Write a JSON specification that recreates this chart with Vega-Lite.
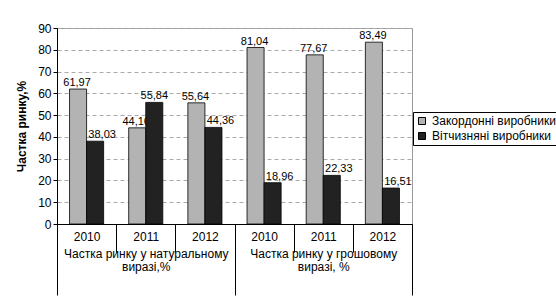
{
  "$schema": "https://vega.github.io/schema/vega-lite/v6.json",
  "width": 355,
  "height": 196,
  "autosize": {"type": "none"},
  "padding": {"left": 57, "top": 28, "right": 144, "bottom": 79},
  "background": "white",
  "config": {
    "font": "Liberation Sans",
    "view": {"stroke": "#999999", "strokeWidth": 1},
    "locale": {"number": {"decimal": ",", "thousands": " ", "grouping": [3], "currency": ["", ""]}}
  },
  "data": {
    "values": [
      {"grp": "Частка ринку у натуральному виразі,%", "cat": "N2010", "series": "Закордонні виробники", "value": 61.97},
      {"grp": "Частка ринку у натуральному виразі,%", "cat": "N2010", "series": "Вітчизняні виробники", "value": 38.03},
      {"grp": "Частка ринку у натуральному виразі,%", "cat": "N2011", "series": "Закордонні виробники", "value": 44.16},
      {"grp": "Частка ринку у натуральному виразі,%", "cat": "N2011", "series": "Вітчизняні виробники", "value": 55.84},
      {"grp": "Частка ринку у натуральному виразі,%", "cat": "N2012", "series": "Закордонні виробники", "value": 55.64},
      {"grp": "Частка ринку у натуральному виразі,%", "cat": "N2012", "series": "Вітчизняні виробники", "value": 44.36},
      {"grp": "Частка ринку у грошовому виразі, %", "cat": "G2010", "series": "Закордонні виробники", "value": 81.04},
      {"grp": "Частка ринку у грошовому виразі, %", "cat": "G2010", "series": "Вітчизняні виробники", "value": 18.96},
      {"grp": "Частка ринку у грошовому виразі, %", "cat": "G2011", "series": "Закордонні виробники", "value": 77.67},
      {"grp": "Частка ринку у грошовому виразі, %", "cat": "G2011", "series": "Вітчизняні виробники", "value": 22.33},
      {"grp": "Частка ринку у грошовому виразі, %", "cat": "G2012", "series": "Закордонні виробники", "value": 83.49},
      {"grp": "Частка ринку у грошовому виразі, %", "cat": "G2012", "series": "Вітчизняні виробники", "value": 16.51}
    ]
  },
  "resolve": {"scale": {"x": "independent"}, "axis": {"x": "independent"}},
  "layer": [
    {
      "encoding": {
        "x": {
          "field": "cat",
          "type": "nominal",
          "scale": {"domain": ["N2010", "N2011", "N2012", "G2010", "G2011", "G2012"], "paddingInner": 0, "paddingOuter": 0},
          "axis": {
            "orient": "bottom",
            "title": null,
            "labelExpr": "isString(datum.value) ? substring(datum.value, 1) : ''",
            "labelAngle": 0,
            "labelFontSize": 12,
            "labelColor": "#000000",
            "labelPadding": -21,
            "labelBaseline": "top",
            "tickBand": "extent",
            "tickSize": 28,
            "tickColor": "#000000",
            "domainColor": "#000000",
            "grid": false
          }
        },
        "xOffset": {
          "field": "series",
          "type": "nominal",
          "scale": {"domain": ["Закордонні виробники", "Вітчизняні виробники"], "paddingInner": 0, "paddingOuter": 0.735}
        },
        "y": {
          "field": "value",
          "type": "quantitative",
          "scale": {"domain": [0, 90], "nice": false},
          "axis": {
            "title": "Частка ринку,%",
            "titleFontSize": 12,
            "titleFontWeight": "bold",
            "titleColor": "#000000",
            "titleX": -29,
            "titleBaseline": "bottom",
            "values": [0, 10, 20, 30, 40, 50, 60, 70, 80, 90],
            "labelFontSize": 12,
            "labelColor": "#000000",
            "labelPadding": 2,
            "tickSize": 4,
            "tickColor": "#000000",
            "domainColor": "#000000",
            "grid": true,
            "gridDash": [4, 3],
            "gridColor": "#aaaaaa"
          }
        }
      },
      "layer": [
        {
          "transform": [{"filter": "datum.series == 'Закордонні виробники'"}],
          "mark": {"type": "text", "baseline": "alphabetic", "dy": -3, "dx": -1, "fontSize": 11, "color": "#000000"},
          "encoding": {
            "text": {"field": "value", "type": "quantitative", "format": ".2f"}
          }
        },
        {
          "mark": {"type": "bar", "stroke": "#000000", "strokeWidth": 0.8},
          "encoding": {
            "color": {
              "field": "series",
              "type": "nominal",
              "scale": {"domain": ["Закордонні виробники", "Вітчизняні виробники"], "range": ["#b3b3b3", "#222222"]},
              "legend": {
                "title": null,
                "orient": "none",
                "legendX": 356,
                "legendY": 84,
                "strokeColor": "#000000",
                "fillColor": "#ffffff",
                "padding": 3,
                "symbolType": "square",
                "symbolSize": 49,
                "symbolStrokeColor": "#000000",
                "symbolStrokeWidth": 1,
                "labelFontSize": 12,
                "labelColor": "#000000",
                "labelOffset": 4,
                "labelLimit": 200,
                "rowPadding": 3
              }
            }
          }
        },
        {
          "transform": [{"filter": "datum.series == 'Вітчизняні виробники' && datum.value > 50"}],
          "mark": {"type": "text", "baseline": "alphabetic", "dy": -3, "fontSize": 11, "color": "#000000"},
          "encoding": {
            "text": {"field": "value", "type": "quantitative", "format": ".2f"}
          }
        },
        {
          "transform": [{"filter": "datum.series == 'Вітчизняні виробники' && datum.value <= 50"}],
          "mark": {"type": "text", "baseline": "alphabetic", "dy": -3, "dx": 7, "fontSize": 11, "color": "#000000"},
          "encoding": {
            "text": {"field": "value", "type": "quantitative", "format": ".2f"}
          }
        }
      ]
    },
    {
      "mark": {"type": "point", "opacity": 0},
      "encoding": {
        "x": {
          "field": "grp",
          "type": "nominal",
          "scale": {"domain": ["Частка ринку у натуральному виразі,%", "Частка ринку у грошовому виразі, %"], "paddingInner": 0, "paddingOuter": 0},
          "axis": {
            "orient": "bottom",
            "title": null,
            "domain": false,
            "labelAngle": 0,
            "labelExpr": "datum.value == 'Частка ринку у натуральному виразі,%' ? ['Частка ринку у натуральному', 'виразі,%'] : datum.value == 'Частка ринку у грошовому виразі, %' ? ['Частка ринку у грошовому', 'виразі, %'] : ''",
            "labelFontSize": 12,
            "labelColor": "#000000",
            "labelLineHeight": 13,
            "labelBaseline": "top",
            "labelPadding": -47,
            "tickBand": "extent",
            "tickSize": 71,
            "tickColor": "#000000",
            "grid": false
          }
        }
      }
    }
  ]
}
